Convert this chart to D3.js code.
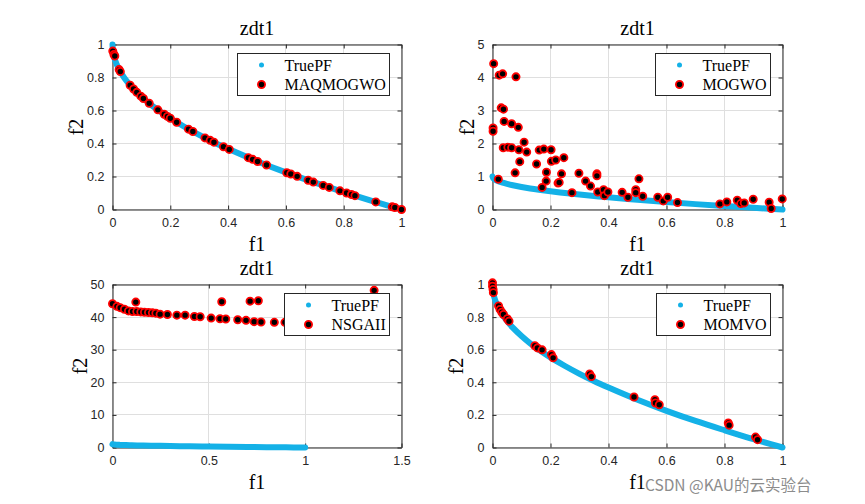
<!DOCTYPE html>
<html>
<head>
<meta charset="utf-8">
<script src="https://cdn.jsdelivr.net/npm/d3@7"></script>
<style>
  body { margin: 0; background: #fff; }
  .tick text { font-family: "Liberation Sans", Arial, sans-serif; font-size: 12.5px; fill: #262626; }
  .serif { font-family: "Liberation Serif", "Times New Roman", serif; fill: #000; }
</style>
</head>
<body>
<svg id="chart" width="865" height="504"></svg>
<script>
// true Pareto front of zdt1 (sampled)
const pfF1 = [0, 0.002, 0.005, 0.01, 0.02, 0.035, 0.05, 0.07, 0.1, 0.13, 0.16, 0.2, 0.25, 0.3, 0.35, 0.4, 0.5, 0.6, 0.7, 0.8, 0.9, 1];
const pfF2 = [1, 0.955, 0.929, 0.9, 0.859, 0.813, 0.776, 0.735, 0.684, 0.639, 0.6, 0.553, 0.5, 0.452, 0.408, 0.368, 0.293, 0.225, 0.163, 0.106, 0.051, 0];

const maqF1 = [0.001, 0.005, 0.008, 0.023, 0.027, 0.061, 0.073, 0.084, 0.098, 0.107, 0.127, 0.157, 0.179, 0.19, 0.2, 0.222, 0.263, 0.278, 0.32, 0.338, 0.351, 0.384, 0.404, 0.47, 0.485, 0.502, 0.533, 0.603, 0.617, 0.639, 0.677, 0.695, 0.729, 0.75, 0.787, 0.81, 0.827, 0.839, 0.911, 0.968, 0.977, 1.0];
const maqF2 = [0.96, 0.94, 0.93, 0.848, 0.836, 0.753, 0.73, 0.71, 0.687, 0.673, 0.644, 0.604, 0.577, 0.564, 0.553, 0.529, 0.487, 0.473, 0.434, 0.419, 0.408, 0.38, 0.364, 0.314, 0.304, 0.291, 0.27, 0.223, 0.215, 0.201, 0.177, 0.166, 0.146, 0.134, 0.113, 0.1, 0.091, 0.084, 0.046, 0.016, 0.012, 0.0];

const mogwoF1 = [0.004, 0.023, 0.035, 0.081, 0.03, 0.038, 0.04, 0.066, 0.089, 0.002, 0.002, 0.109, 0.037, 0.053, 0.066, 0.091, 0.118, 0.161, 0.177, 0.202, 0.203, 0.218, 0.246, 0.094, 0.152, 0.078, 0.186, 0.238, 0.226, 0.23, 0.185, 0.171, 0.298, 0.321, 0.338, 0.36, 0.36, 0.363, 0.383, 0.386, 0.398, 0.274, 0.02, 0.447, 0.467, 0.494, 0.494, 0.505, 0.518, 0.57, 0.589, 0.604, 0.638, 0.784, 0.808, 0.844, 0.856, 0.868, 0.899, 0.954, 0.961, 0.999];
const mogwoF2 = [4.42, 4.07, 4.11, 4.02, 3.08, 3.04, 2.67, 2.6, 2.49, 2.47, 2.37, 2.04, 1.87, 1.89, 1.87, 1.81, 1.74, 1.8, 1.83, 1.81, 1.46, 1.5, 1.57, 1.45, 1.38, 1.11, 1.13, 1.08, 0.8, 0.82, 0.86, 0.67, 1.1, 0.86, 0.71, 1.08, 1.02, 0.53, 0.6, 0.42, 0.53, 0.51, 0.92, 0.52, 0.37, 0.6, 0.51, 0.93, 0.4, 0.37, 0.26, 0.37, 0.21, 0.17, 0.23, 0.28, 0.18, 0.2, 0.31, 0.22, 0.03, 0.32];

const nsgaF1 = [0, 0.023, 0.04, 0.062, 0.083, 0.104, 0.121, 0.126, 0.147, 0.166, 0.187, 0.207, 0.225, 0.247, 0.285, 0.334, 0.377, 0.425, 0.455, 0.512, 0.558, 0.567, 0.588, 0.65, 0.693, 0.714, 0.735, 0.757, 0.771, 0.84, 0.895, 0.96, 1.05, 1.15, 1.25, 1.358];
const nsgaF2 = [44.1, 43.3, 42.9, 42.4, 41.9, 41.7, 44.6, 41.7, 41.6, 41.5, 41.4, 41.3, 41.2, 40.9, 40.8, 40.6, 40.6, 40.2, 40.1, 39.7, 39.5, 44.7, 39.4, 39.2, 39.0, 44.9, 38.6, 45.0, 38.5, 38.4, 38.4, 38.2, 38.0, 37.8, 37.6, 48.2];

const momvoF1 = [0, 0, 0.002, 0.003, 0.021, 0.026, 0.032, 0.038, 0.051, 0.057, 0.146, 0.155, 0.171, 0.203, 0.209, 0.335, 0.341, 0.488, 0.56, 0.562, 0.575, 0.813, 0.816, 0.907, 0.914];
const momvoF2 = [1.01, 0.99, 0.97, 0.95, 0.868, 0.847, 0.83, 0.816, 0.79, 0.775, 0.624, 0.611, 0.599, 0.57, 0.55, 0.451, 0.435, 0.31, 0.293, 0.273, 0.262, 0.15, 0.137, 0.064, 0.048];

const unitTicks = [0, 0.2, 0.4, 0.6, 0.8, 1];
const mogwoYTicks = [0, 1, 2, 3, 4, 5];
const nsgaXTicks = [0, 0.5, 1, 1.5];
const nsgaYTicks = [0, 10, 20, 30, 40, 50];

const axisColor = '#262626';
const gridColor = '#dfdfdf';
const pfColor = '#14b1e7';
const fmt = d3.format('~g');

const truePF = pfF1.map((d, i) => [d, pfF2[i]]);

const panels = [
  { left: 112.5, top: 44.5, right: 401.5, bottom: 209.5, xDomain: [0, 1], yDomain: [0, 1],
    xTicks: unitTicks, yTicks: unitTicks, name: 'MAQMOGWO', f1: maqF1, f2: maqF2 },
  { left: 492.5, top: 44.5, right: 782.5, bottom: 209.5, xDomain: [0, 1], yDomain: [0, 5],
    xTicks: unitTicks, yTicks: mogwoYTicks, name: 'MOGWO', f1: mogwoF1, f2: mogwoF2 },
  { left: 112.5, top: 284.5, right: 401.5, bottom: 447.5, xDomain: [0, 1.5], yDomain: [0, 50],
    xTicks: nsgaXTicks, yTicks: nsgaYTicks, name: 'NSGAII', f1: nsgaF1, f2: nsgaF2 },
  { left: 492.5, top: 284.5, right: 782.5, bottom: 447.5, xDomain: [0, 1], yDomain: [0, 1],
    xTicks: unitTicks, yTicks: unitTicks, name: 'MOMVO', f1: momvoF1, f2: momvoF2 }
];

const svg = d3.select('#chart');

panels.forEach(drawPanel);

// watermark
svg.append('text')
  .attr('x', 645)
  .attr('y', 491)
  .style('font-family', '"Noto Sans CJK SC", "Noto Sans", sans-serif')
  .style('font-size', '15.5px')
  .style('fill', '#8c8c8c')
  .style('stroke', '#fff')
  .style('stroke-width', 0.6)
  .style('paint-order', 'stroke')
  .text('CSDN @KAU的云实验台');

function drawPanel(p) {
  var w = p.right - p.left;
  var h = p.bottom - p.top;
  var x = d3.scaleLinear().domain(p.xDomain).range([0, w]);
  var y = d3.scaleLinear().domain(p.yDomain).range([h, 0]);

  var g = svg.append('g').attr('transform', 'translate(' + p.left + ',' + p.top + ')');

  // grid
  var grid = g.append('g').attr('stroke', gridColor).attr('stroke-width', 1);
  grid.selectAll('.gx').data(p.xTicks).enter().append('line')
    .attr('x1', d => Math.round(x(d))).attr('x2', d => Math.round(x(d)))
    .attr('y1', 0).attr('y2', h);
  grid.selectAll('.gy').data(p.yTicks).enter().append('line')
    .attr('y1', d => Math.round(y(d))).attr('y2', d => Math.round(y(d)))
    .attr('x1', 0).attr('x2', w);

  // axes (ticks point inside, box on)
  var xAxis = g.append('g').attr('transform', 'translate(0,' + h + ')')
    .call(d3.axisBottom(x).tickValues(p.xTicks).tickFormat(fmt).tickSizeInner(-4).tickSizeOuter(0).tickPadding(8.5));
  var yAxis = g.append('g')
    .call(d3.axisLeft(y).tickValues(p.yTicks).tickFormat(fmt).tickSizeInner(-4).tickSizeOuter(0).tickPadding(8));
  g.append('g')
    .call(d3.axisTop(x).tickValues(p.xTicks).tickFormat('').tickSizeInner(-4).tickSizeOuter(0));
  g.append('g').attr('transform', 'translate(' + w + ',0)')
    .call(d3.axisRight(y).tickValues(p.yTicks).tickFormat('').tickSizeInner(-4).tickSizeOuter(0));
  g.selectAll('.domain, .tick line').attr('stroke', axisColor);
  g.selectAll('.tick text').attr('fill', axisColor);

  // true front
  var line = d3.line()
    .x(d => x(d[0]))
    .y(d => y(d[1]))
    .curve(d3.curveCatmullRom);
  g.append('path')
    .datum(truePF)
    .attr('d', line)
    .attr('fill', 'none')
    .attr('stroke', pfColor)
    .attr('stroke-width', 6)
    .attr('stroke-linecap', 'round')
    .attr('stroke-linejoin', 'round');

  // obtained front
  var pts = p.f1.map((d, i) => [d, p.f2[i]]);
  g.append('g').selectAll('circle').data(pts).enter().append('circle')
    .attr('cx', d => x(d[0]))
    .attr('cy', d => y(d[1]))
    .attr('r', 3.6)
    .attr('fill', '#000')
    .attr('stroke', '#ff0000')
    .attr('stroke-width', 1.8);

  // titles and labels
  g.append('text').attr('class', 'serif')
    .attr('x', w / 2).attr('y', -10)
    .attr('text-anchor', 'middle')
    .style('font-size', '20px')
    .text('zdt1');

  g.append('text').attr('class', 'serif')
    .attr('x', w / 2).attr('y', h + 41)
    .attr('text-anchor', 'middle')
    .style('font-size', '20px')
    .text('f1');

  var maxTick = 0;
  yAxis.selectAll('.tick text').each(function() {
    maxTick = Math.max(maxTick, this.getComputedTextLength());
  });
  g.append('text').attr('class', 'serif')
    .attr('transform', 'translate(' + (-8 - maxTick - 4) + ',' + (h / 2) + ') rotate(-90)')
    .attr('text-anchor', 'middle')
    .style('font-size', '20px')
    .text('f2');

  // legend
  var legend = g.append('g');
  var box = legend.append('rect');
  var labels = ['TruePF', p.name];
  var texts = legend.selectAll('text').data(labels).enter().append('text')
    .attr('class', 'serif')
    .attr('x', 47)
    .attr('y', (d, i) => 11.5 + i * 19.5)
    .attr('dominant-baseline', 'central')
    .style('font-size', '16px')
    .text(d => d);
  var textLen = 0;
  texts.each(function() { textLen = Math.max(textLen, this.getComputedTextLength()); });
  var lw = Math.round(47 + textLen + 4);
  var lh = 42;
  var lx = Math.round(w - 12 - lw);
  legend.attr('transform', 'translate(' + lx + ',9)');
  box.attr('width', lw).attr('height', lh)
    .attr('fill', '#fff').attr('stroke', axisColor).attr('stroke-width', 1);
  legend.append('circle')
    .attr('cx', 24).attr('cy', 11.5).attr('r', 2.5)
    .attr('fill', pfColor);
  legend.append('circle')
    .attr('cx', 24).attr('cy', 31).attr('r', 3.6)
    .attr('fill', '#000').attr('stroke', '#ff0000').attr('stroke-width', 1.8);
}
</script>
</body>
</html>
